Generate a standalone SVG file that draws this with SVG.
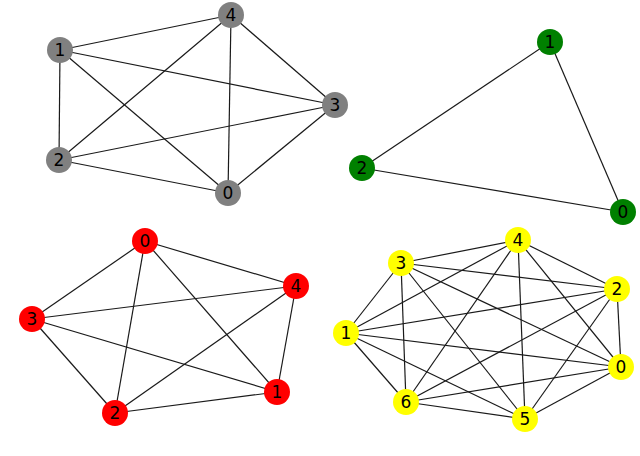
<svg xmlns="http://www.w3.org/2000/svg" width="640" height="456" viewBox="0 0 640 456">
<style>
.e{stroke:#1a1a1a;stroke-width:1.2;fill:none}
.n circle{r:13}
.g circle{fill:#808080}
.gr circle{fill:#008000}
.r circle{fill:#ff0000}
.y circle{fill:#ffff00}
text{font-family:"DejaVu Sans",sans-serif;font-size:17px;fill:#000;text-anchor:middle;dominant-baseline:central}
</style>
<rect width="640" height="456" fill="#fff"/>
<g id="connectors">
<!-- gray K5 -->
<g class="e">
<line x1="60" y1="50" x2="231" y2="15"/>
<line x1="60" y1="50" x2="335" y2="105"/>
<line x1="60" y1="50" x2="59" y2="160"/>
<line x1="60" y1="50" x2="228" y2="193"/>
<line x1="231" y1="15" x2="59" y2="160"/>
<line x1="231" y1="15" x2="228" y2="193"/>
<line x1="231" y1="15" x2="335" y2="105"/>
<line x1="59" y1="160" x2="335" y2="105"/>
<line x1="59" y1="160" x2="228" y2="193"/>
<line x1="228" y1="193" x2="335" y2="105"/>
<!-- green -->
<line x1="550" y1="42" x2="362" y2="168"/>
<line x1="550" y1="42" x2="623" y2="212"/>
<line x1="362" y1="168" x2="623" y2="212"/>
<!-- red K5 -->
<line x1="145" y1="241" x2="296" y2="286"/>
<line x1="145" y1="241" x2="32" y2="319"/>
<line x1="145" y1="241" x2="115" y2="413"/>
<line x1="145" y1="241" x2="277" y2="392"/>
<line x1="32" y1="319" x2="296" y2="286"/>
<line x1="32" y1="319" x2="277" y2="392"/>
<line x1="32" y1="319" x2="115" y2="413"/>
<line x1="115" y1="413" x2="296" y2="286"/>
<line x1="115" y1="413" x2="277" y2="392"/>
<line x1="296" y1="286" x2="277" y2="392"/>
<!-- yellow K7 -->
<line x1="401" y1="263" x2="518" y2="240"/>
<line x1="401" y1="263" x2="617" y2="289"/>
<line x1="401" y1="263" x2="346" y2="333"/>
<line x1="401" y1="263" x2="406" y2="402"/>
<line x1="401" y1="263" x2="525" y2="419"/>
<line x1="401" y1="263" x2="621" y2="367"/>
<line x1="518" y1="240" x2="346" y2="333"/>
<line x1="518" y1="240" x2="406" y2="402"/>
<line x1="518" y1="240" x2="525" y2="419"/>
<line x1="518" y1="240" x2="617" y2="289"/>
<line x1="518" y1="240" x2="621" y2="367"/>
<line x1="617" y1="289" x2="346" y2="333"/>
<line x1="617" y1="289" x2="406" y2="402"/>
<line x1="617" y1="289" x2="525" y2="419"/>
<line x1="617" y1="289" x2="621" y2="367"/>
<line x1="346" y1="333" x2="621" y2="367"/>
<line x1="346" y1="333" x2="406" y2="402"/>
<line x1="346" y1="333" x2="525" y2="419"/>
<line x1="621" y1="367" x2="406" y2="402"/>
<line x1="621" y1="367" x2="525" y2="419"/>
<line x1="406" y1="402" x2="525" y2="419"/>
</g>
</g>
<g class="g">
<g id="gray-0"><circle cx="228" cy="193" r="13"/><text x="228" y="193">0</text></g>
<g id="gray-1"><circle cx="60" cy="50" r="13"/><text x="60" y="50">1</text></g>
<g id="gray-2"><circle cx="59" cy="160" r="13"/><text x="59" y="160">2</text></g>
<g id="gray-3"><circle cx="335" cy="105" r="13"/><text x="335" y="105">3</text></g>
<g id="gray-4"><circle cx="231" cy="15" r="13"/><text x="231" y="15">4</text></g>
</g>
<g class="gr">
<g id="green-0"><circle cx="623" cy="212" r="13"/><text x="623" y="212">0</text></g>
<g id="green-1"><circle cx="550" cy="42" r="13"/><text x="550" y="42">1</text></g>
<g id="green-2"><circle cx="362" cy="168" r="13"/><text x="362" y="168">2</text></g>
</g>
<g class="r">
<g id="red-0"><circle cx="145" cy="241" r="13"/><text x="145" y="241">0</text></g>
<g id="red-1"><circle cx="277" cy="392" r="13"/><text x="277" y="392">1</text></g>
<g id="red-2"><circle cx="115" cy="413" r="13"/><text x="115" y="413">2</text></g>
<g id="red-3"><circle cx="32" cy="319" r="13"/><text x="32" y="319">3</text></g>
<g id="red-4"><circle cx="296" cy="286" r="13"/><text x="296" y="286">4</text></g>
</g>
<g class="y">
<g id="yellow-0"><circle cx="621" cy="367" r="13"/><text x="621" y="367">0</text></g>
<g id="yellow-1"><circle cx="346" cy="333" r="13"/><text x="346" y="333">1</text></g>
<g id="yellow-2"><circle cx="617" cy="289" r="13"/><text x="617" y="289">2</text></g>
<g id="yellow-3"><circle cx="401" cy="263" r="13"/><text x="401" y="263">3</text></g>
<g id="yellow-4"><circle cx="518" cy="240" r="13"/><text x="518" y="240">4</text></g>
<g id="yellow-5"><circle cx="525" cy="419" r="13"/><text x="525" y="419">5</text></g>
<g id="yellow-6"><circle cx="406" cy="402" r="13"/><text x="406" y="402">6</text></g>
</g>
</svg>
